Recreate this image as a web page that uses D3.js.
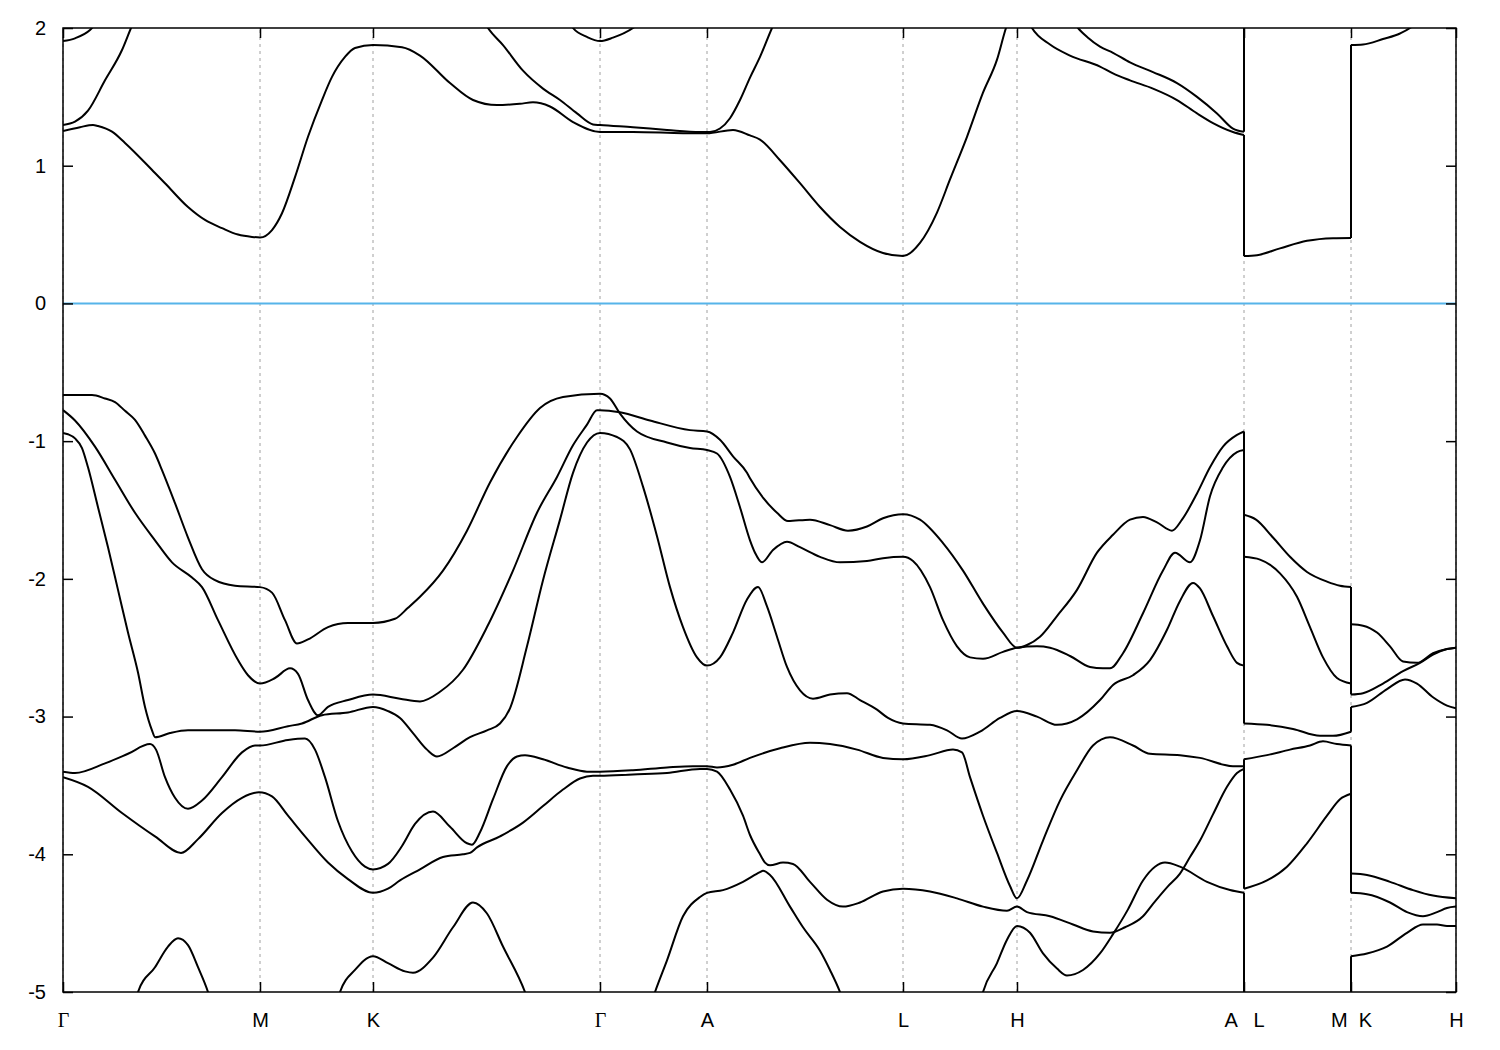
<!DOCTYPE html>
<html><head><meta charset="utf-8">
<script src="https://cdn.jsdelivr.net/npm/d3@7"></script>
<style>
html,body{margin:0;padding:0;background:#fff;}
</style></head><body>
<svg id="chart" width="1500" height="1050"></svg>
<script>
// high-symmetry points along the k-path (path distance units)
const kTicks  = [0, 1.97, 3.10, 5.37, 6.44, 8.40, 9.54, 11.81, 12.88, 13.93];
const kLabels = ["Γ", "M", "K", "Γ", "A", "L", "H", "A   L", "M  K", "H"];
const yTicks  = [-5, -4, -3, -2, -1, 0, 1, 2];

// conduction bands [k, E(eV)]
const bandC3L = [[0,1.905],[0.12,1.925],[0.27,1.985],[0.37,2.07]];
const bandC2L = [[0,1.296],[0.12,1.32],[0.25,1.40],[0.42,1.62],[0.59,1.84],[0.68,2.0],[0.74,2.1]];
const bandC1 = [[0,1.252],[0.17,1.28],[0.30,1.296],[0.35,1.288],[0.49,1.247],[0.62,1.165],[0.92,0.947],[1.02,0.873],[1.25,0.70],[1.42,0.606],[1.59,0.547],[1.75,0.50],[1.89,0.483],[1.97,0.479],[2.09,0.533],[2.19,0.655],[2.32,0.917],[2.45,1.21],[2.59,1.477],[2.69,1.645],[2.82,1.79],[2.92,1.855],[3.10,1.876],[3.39,1.86],[3.57,1.80],[3.87,1.60],[4.10,1.477],[4.34,1.44],[4.57,1.45],[4.70,1.46],[4.87,1.43],[5.10,1.317],[5.37,1.245],[5.70,1.245],[6.20,1.236],[6.44,1.235],[6.70,1.26],[6.87,1.22],[6.97,1.19],[7.17,1.04],[7.37,0.873],[7.57,0.70],[7.77,0.555],[7.97,0.447],[8.20,0.366],[8.40,0.344],[8.57,0.44],[8.74,0.66],[8.87,0.90],[9.04,1.21],[9.20,1.53],[9.34,1.77],[9.43,2.0],[9.47,2.08]];
const bandC2 = [[4.17,2.1],[4.25,2.0],[4.40,1.876],[4.60,1.69],[4.80,1.56],[4.97,1.477],[5.14,1.38],[5.30,1.30],[5.37,1.295],[5.70,1.28],[6.04,1.26],[6.37,1.245],[6.47,1.245],[6.57,1.27],[6.67,1.345],[6.77,1.477],[6.87,1.64],[6.97,1.79],[7.09,2.0],[7.14,2.08]];
const bandC3G = [[5.03,2.08],[5.10,2.0],[5.24,1.935],[5.37,1.905],[5.50,1.93],[5.70,2.0],[5.77,2.04]];
const bandP = [[9.62,2.1],[9.69,2.0],[9.87,1.88],[10.07,1.80],[10.37,1.72],[10.50,1.67],[10.67,1.62],[10.90,1.56],[11.14,1.477],[11.34,1.38],[11.50,1.31],[11.70,1.245],[11.81,1.223],[11.81,0.344],[11.94,0.35],[12.17,0.40],[12.44,0.455],[12.70,0.474],[12.88,0.476],[12.88,1.876],[13.00,1.88],[13.20,1.92],[13.37,1.96],[13.47,2.0],[13.55,2.05]];
const bandQ = [[10.07,2.08],[10.15,2.0],[10.25,1.93],[10.37,1.865],[10.50,1.82],[10.67,1.75],[10.90,1.68],[11.14,1.60],[11.34,1.50],[11.54,1.38],[11.70,1.27],[11.81,1.247],[11.81,2.6]];

// valence bands [k, E(eV)]
const bandV1 = [[0,-0.665],[0.29,-0.665],[0.42,-0.69],[0.52,-0.716],[0.62,-0.78],[0.72,-0.846],[0.82,-0.96],[0.92,-1.09],[0.99,-1.21],[1.12,-1.45],[1.25,-1.70],[1.39,-1.93],[1.52,-2.01],[1.72,-2.05],[1.97,-2.06],[2.09,-2.10],[2.22,-2.30],[2.34,-2.47],[2.45,-2.44],[2.65,-2.35],[2.85,-2.32],[3.10,-2.32],[3.32,-2.29],[3.45,-2.21],[3.57,-2.13],[3.80,-1.94],[4.04,-1.65],[4.27,-1.30],[4.54,-0.97],[4.77,-0.76],[5.00,-0.68],[5.37,-0.655],[5.47,-0.69],[5.57,-0.80],[5.74,-0.93],[6.04,-1.01],[6.27,-1.05],[6.44,-1.065],[6.54,-1.09],[6.67,-1.26],[6.77,-1.48],[6.87,-1.72],[6.92,-1.81],[6.99,-1.88],[7.10,-1.79],[7.24,-1.73],[7.37,-1.77],[7.57,-1.84],[7.77,-1.88],[8.04,-1.87],[8.20,-1.85],[8.40,-1.84],[8.50,-1.87],[8.67,-2.06],[8.80,-2.30],[8.94,-2.49],[9.07,-2.57],[9.20,-2.58],[9.40,-2.53],[9.54,-2.50],[9.74,-2.49],[9.87,-2.50],[10.07,-2.56],[10.27,-2.64],[10.40,-2.65],[10.47,-2.65],[10.60,-2.54],[10.80,-2.25],[11.00,-1.94],[11.12,-1.81],[11.27,-1.88],[11.37,-1.72],[11.47,-1.40],[11.60,-1.19],[11.74,-1.08],[11.81,-1.065],[11.81,-3.05],[12.04,-3.06],[12.30,-3.09],[12.57,-3.14],[12.70,-3.14],[12.88,-3.11],[12.88,-2.93],[13.04,-2.90],[13.24,-2.80],[13.42,-2.73],[13.54,-2.76],[13.70,-2.86],[13.84,-2.92],[13.93,-2.94]];
const bandV2 = [[0,-0.775],[0.12,-0.85],[0.32,-1.04],[0.52,-1.28],[0.72,-1.52],[0.92,-1.72],[1.09,-1.88],[1.29,-1.99],[1.39,-2.06],[1.55,-2.30],[1.75,-2.59],[1.85,-2.70],[1.97,-2.76],[2.12,-2.72],[2.27,-2.65],[2.35,-2.69],[2.45,-2.88],[2.55,-2.99],[2.65,-2.93],[2.85,-2.88],[3.10,-2.84],[3.37,-2.87],[3.57,-2.89],[3.77,-2.82],[4.00,-2.66],[4.24,-2.35],[4.50,-1.94],[4.74,-1.52],[4.94,-1.26],[5.10,-1.03],[5.24,-0.88],[5.34,-0.775],[5.37,-0.775],[5.57,-0.79],[5.87,-0.85],[6.27,-0.92],[6.44,-0.93],[6.57,-0.99],[6.70,-1.11],[6.84,-1.23],[6.87,-1.27],[7.00,-1.41],[7.14,-1.52],[7.25,-1.58],[7.47,-1.57],[7.67,-1.61],[7.85,-1.65],[8.04,-1.62],[8.20,-1.56],[8.40,-1.53],[8.57,-1.57],[8.80,-1.74],[9.00,-1.94],[9.20,-2.18],[9.40,-2.39],[9.54,-2.50],[9.64,-2.48],[9.77,-2.42],[9.94,-2.27],[10.14,-2.08],[10.34,-1.81],[10.50,-1.68],[10.67,-1.57],[10.80,-1.55],[10.94,-1.59],[11.09,-1.65],[11.19,-1.57],[11.34,-1.38],[11.47,-1.19],[11.60,-1.04],[11.74,-0.955],[11.81,-0.93],[11.81,-1.535],[11.93,-1.57],[12.10,-1.70],[12.27,-1.84],[12.44,-1.95],[12.64,-2.02],[12.77,-2.05],[12.88,-2.06],[12.88,-2.84],[13.00,-2.83],[13.20,-2.76],[13.40,-2.67],[13.57,-2.61],[13.70,-2.55],[13.84,-2.51],[13.93,-2.50]];
const bandX = [[0,-0.94],[0.05,-0.95],[0.12,-0.98],[0.19,-1.05],[0.25,-1.19],[0.35,-1.48],[0.45,-1.77],[0.55,-2.08],[0.65,-2.39],[0.75,-2.68],[0.82,-2.93],[0.89,-3.10],[0.92,-3.15],[1.07,-3.12],[1.25,-3.10],[1.72,-3.10],[1.97,-3.11],[2.25,-3.07],[2.39,-3.05],[2.59,-2.99],[2.85,-2.97],[3.10,-2.93],[3.25,-2.96],[3.37,-3.01],[3.50,-3.12],[3.64,-3.24],[3.74,-3.29],[3.90,-3.23],[4.07,-3.15],[4.24,-3.10],[4.37,-3.05],[4.47,-2.94],[4.64,-2.49],[4.80,-2.01],[4.97,-1.57],[5.10,-1.23],[5.24,-1.01],[5.37,-0.94],[5.54,-0.97],[5.67,-1.06],[5.80,-1.33],[5.94,-1.69],[6.07,-2.06],[6.20,-2.35],[6.34,-2.57],[6.44,-2.63],[6.57,-2.57],[6.70,-2.39],[6.84,-2.15],[6.95,-2.06],[7.04,-2.20],[7.14,-2.42],[7.24,-2.64],[7.37,-2.81],[7.50,-2.87],[7.67,-2.84],[7.84,-2.83],[7.97,-2.88],[8.14,-2.95],[8.25,-3.01],[8.40,-3.05],[8.67,-3.06],[8.84,-3.10],[8.99,-3.16],[9.17,-3.11],[9.37,-3.01],[9.54,-2.96],[9.74,-3.00],[9.94,-3.06],[10.14,-3.02],[10.37,-2.88],[10.50,-2.77],[10.70,-2.70],[10.87,-2.59],[11.04,-2.37],[11.17,-2.16],[11.30,-2.03],[11.37,-2.07],[11.50,-2.27],[11.64,-2.49],[11.74,-2.61],[11.81,-2.63],[11.81,-1.84],[11.97,-1.86],[12.17,-1.96],[12.34,-2.13],[12.47,-2.35],[12.60,-2.57],[12.74,-2.72],[12.88,-2.76],[12.88,-2.33],[13.00,-2.34],[13.14,-2.39],[13.27,-2.49],[13.40,-2.60],[13.54,-2.61],[13.70,-2.54],[13.84,-2.51],[13.93,-2.50]];
const bandY = [[0,-3.40],[0.12,-3.41],[0.42,-3.34],[0.65,-3.27],[0.87,-3.20],[0.93,-3.24],[1.02,-3.44],[1.12,-3.59],[1.25,-3.67],[1.39,-3.61],[1.59,-3.44],[1.79,-3.26],[1.92,-3.21],[1.97,-3.21],[2.25,-3.17],[2.42,-3.16],[2.52,-3.24],[2.62,-3.44],[2.75,-3.76],[2.89,-3.98],[3.02,-4.09],[3.10,-4.11],[3.25,-4.07],[3.39,-3.94],[3.52,-3.78],[3.70,-3.69],[3.87,-3.80],[4.04,-3.92],[4.09,-3.93],[4.17,-3.84],[4.30,-3.60],[4.44,-3.36],[4.54,-3.29],[4.62,-3.28],[4.80,-3.31],[5.04,-3.37],[5.24,-3.40],[5.37,-3.40],[5.70,-3.39],[6.04,-3.37],[6.30,-3.36],[6.44,-3.36],[6.54,-3.37],[6.70,-3.35],[6.87,-3.30],[7.17,-3.23],[7.47,-3.19],[7.67,-3.20],[7.94,-3.24],[8.20,-3.30],[8.40,-3.31],[8.67,-3.28],[8.90,-3.24],[8.99,-3.26],[9.07,-3.44],[9.20,-3.72],[9.34,-3.99],[9.47,-4.23],[9.54,-4.32],[9.64,-4.19],[9.80,-3.90],[9.97,-3.61],[10.14,-3.39],[10.30,-3.21],[10.47,-3.15],[10.70,-3.21],[10.87,-3.27],[11.17,-3.28],[11.37,-3.30],[11.70,-3.36],[11.81,-3.36],[11.81,-4.25],[12.04,-4.19],[12.24,-4.09],[12.44,-3.92],[12.64,-3.72],[12.77,-3.60],[12.88,-3.56],[12.88,-4.28],[13.04,-4.29],[13.27,-4.35],[13.44,-4.42],[13.60,-4.45],[13.74,-4.42],[13.84,-4.39],[13.93,-4.38]];
const bandZ = [[0,-3.44],[0.25,-3.51],[0.59,-3.70],[0.92,-3.87],[1.18,-3.99],[1.35,-3.89],[1.59,-3.70],[1.79,-3.59],[1.96,-3.55],[2.09,-3.58],[2.25,-3.72],[2.42,-3.87],[2.65,-4.06],[2.85,-4.18],[3.10,-4.28],[3.25,-4.25],[3.37,-4.19],[3.57,-4.11],[3.80,-4.02],[4.00,-4.00],[4.07,-3.99],[4.14,-3.95],[4.37,-3.87],[4.60,-3.77],[4.80,-3.65],[5.00,-3.53],[5.17,-3.45],[5.30,-3.43],[5.37,-3.43],[5.70,-3.42],[6.04,-3.41],[6.37,-3.38],[6.44,-3.38],[6.54,-3.40],[6.67,-3.53],[6.80,-3.72],[6.87,-3.86],[6.97,-4.00],[7.02,-4.06],[7.07,-4.08],[7.20,-4.06],[7.30,-4.07],[7.47,-4.20],[7.64,-4.33],[7.80,-4.38],[7.97,-4.35],[8.20,-4.27],[8.40,-4.25],[8.67,-4.27],[8.94,-4.32],[9.20,-4.38],[9.44,-4.41],[9.54,-4.38],[9.64,-4.42],[9.87,-4.45],[10.10,-4.51],[10.30,-4.56],[10.47,-4.57],[10.62,-4.53],[10.80,-4.45],[10.90,-4.36],[11.04,-4.24],[11.17,-4.14],[11.27,-4.02],[11.37,-3.90],[11.50,-3.71],[11.64,-3.51],[11.74,-3.41],[11.81,-3.38],[11.81,-3.31],[12.04,-3.28],[12.27,-3.24],[12.47,-3.21],[12.60,-3.18],[12.74,-3.20],[12.88,-3.21],[12.88,-4.14],[13.04,-4.15],[13.27,-4.20],[13.50,-4.26],[13.70,-4.30],[13.93,-4.32]];
const bandE1 = [[5.85,-5.15],[5.92,-5.0],[6.04,-4.77],[6.20,-4.45],[6.37,-4.31],[6.44,-4.28],[6.60,-4.26],[6.80,-4.20],[6.97,-4.13],[7.00,-4.12],[7.07,-4.15],[7.27,-4.38],[7.40,-4.53],[7.57,-4.70],[7.67,-4.84],[7.77,-5.0],[7.82,-5.1]];
const bandE2 = [[9.15,-5.15],[9.20,-5.0],[9.34,-4.79],[9.44,-4.62],[9.54,-4.52],[9.67,-4.57],[9.80,-4.72],[9.94,-4.83],[10.04,-4.88],[10.20,-4.84],[10.37,-4.72],[10.50,-4.58],[10.65,-4.40],[10.80,-4.19],[10.92,-4.09],[11.02,-4.06],[11.17,-4.09],[11.44,-4.20],[11.67,-4.26],[11.81,-4.28],[11.81,-5.6]];
const bandE3 = [[12.88,-5.6],[12.88,-4.74],[13.04,-4.72],[13.24,-4.67],[13.44,-4.57],[13.60,-4.51],[13.74,-4.51],[13.84,-4.52],[13.93,-4.52]];
const bandW1 = [[0.70,-5.15],[0.75,-5.0],[0.92,-4.82],[1.05,-4.67],[1.15,-4.61],[1.25,-4.66],[1.35,-4.82],[1.45,-5.0],[1.50,-5.12]];
const bandW2 = [[2.72,-5.12],[2.77,-5.0],[2.92,-4.84],[3.10,-4.74],[3.25,-4.79],[3.42,-4.85],[3.50,-4.86],[3.70,-4.75],[3.90,-4.53],[4.10,-4.35],[4.24,-4.43],[4.40,-4.67],[4.62,-5.0],[4.67,-5.1]];

const bands = [bandC3L, bandC2L, bandC1, bandC2, bandC3G, bandP, bandQ,
               bandV1, bandV2, bandX, bandY, bandZ, bandE1, bandE2, bandE3, bandW1, bandW2];

const x = d3.scaleLinear().domain([0, 13.93]).range([63, 1456]);
const y = d3.scaleLinear().domain([-5, 2]).range([992, 28]);
const [x0, x1] = x.range();
const [yb, yt] = y.range();

const svg = d3.select("#chart");
const FONT = '"Liberation Sans", Arial, Helvetica, sans-serif';

svg.append("defs").append("clipPath").attr("id", "clip")
  .append("rect").attr("x", x0).attr("y", yt).attr("width", x1 - x0).attr("height", yb - yt);

// dashed vertical grid at high-symmetry points
svg.append("g").selectAll("line").data(kTicks).join("line")
  .attr("x1", d => x(d)).attr("x2", d => x(d))
  .attr("y1", yb).attr("y2", yt)
  .attr("stroke", "#a0a0a0").attr("stroke-width", 1).attr("stroke-dasharray", "3,4");

// Fermi level
svg.append("line").attr("x1", x0).attr("x2", x1).attr("y1", y(0)).attr("y2", y(0))
  .attr("stroke", "#56b4e9").attr("stroke-width", 2);

// bands
const plot = svg.append("g").attr("clip-path", "url(#clip)");
const line = d3.line().x(d => x(d[0])).y(d => y(d[1])).curve(d3.curveMonotoneX);
bands.forEach(b => {
  const segs = []; const jumps = [];
  let cur = [b[0]];
  for (let i = 1; i < b.length; i++) {
    if (b[i][0] === b[i-1][0]) { jumps.push([b[i-1], b[i]]); segs.push(cur); cur = [b[i]]; }
    else cur.push(b[i]);
  }
  segs.push(cur);
  segs.filter(s => s.length > 1).forEach(s => {
    plot.append("path").attr("d", line(s)).attr("fill", "none")
      .attr("stroke", "#000").attr("stroke-width", 2).attr("stroke-linejoin", "round");
  });
  jumps.forEach(j => {
    plot.append("line").attr("x1", x(j[0][0])).attr("x2", x(j[1][0]))
      .attr("y1", y(j[0][1])).attr("y2", y(j[1][1]))
      .attr("stroke", "#000").attr("stroke-width", 2);
  });
});

// axes
function styleAxis(g) {
  g.select(".domain").remove();
  g.selectAll(".tick line").attr("stroke", "#000").attr("stroke-width", 1.5);
  g.attr("font-family", FONT).attr("font-size", 20);
  g.selectAll(".tick text").attr("fill", "#000");
}
svg.append("g").attr("transform", `translate(${x0},0)`)
  .call(d3.axisLeft(y).tickValues(yTicks).tickSizeInner(-10).tickSizeOuter(0).tickPadding(17).tickFormat(d => String(d)))
  .call(styleAxis);
svg.append("g").attr("transform", `translate(${x1},0)`)
  .call(d3.axisRight(y).tickValues(yTicks).tickSizeInner(-10).tickSizeOuter(0).tickFormat(""))
  .call(styleAxis);
svg.append("g").attr("transform", `translate(0,${yt})`)
  .call(d3.axisTop(x).tickValues(kTicks).tickSizeInner(-10).tickSizeOuter(0).tickFormat(""))
  .call(styleAxis);
const gB = svg.append("g").attr("transform", `translate(0,${yb})`)
  .call(d3.axisBottom(x).tickValues(kTicks).tickSizeInner(-10).tickSizeOuter(0).tickPadding(21).tickFormat((d, i) => kLabels[i]))
  .call(styleAxis);
gB.selectAll(".tick text").attr("xml:space", "preserve").style("white-space", "pre")
  .filter(t => kLabels[kTicks.indexOf(t)] === "Γ")
  .attr("font-family", '"Liberation Serif", "DejaVu Serif", serif');

// frame
svg.append("rect").attr("x", x0).attr("y", yt).attr("width", x1 - x0).attr("height", yb - yt)
  .attr("fill", "none").attr("stroke", "#000").attr("stroke-width", 1.5);
</script>
</body></html>
